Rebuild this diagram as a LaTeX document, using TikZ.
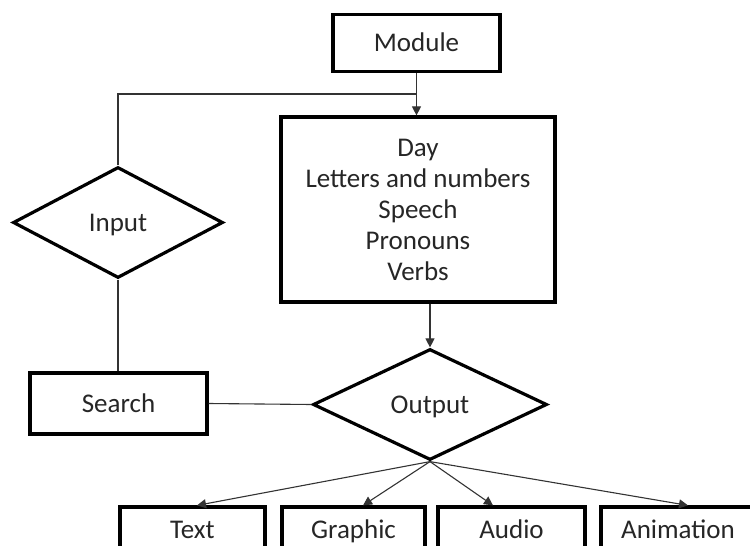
\documentclass[tikz,border=0pt]{standalone}
\usepackage{fontspec}
\setmainfont{Carlito}
\usetikzlibrary{shapes.geometric,arrows.meta}

\begin{document}
\begin{tikzpicture}[x=1pt,y=-1pt,
        box/.style={draw,line width=3.2pt,rectangle,inner sep=0pt,text=black!85},
        oneline/.style={text height=17pt,text depth=0pt},
        decide/.style={draw,line width=3.2pt,diamond,inner sep=0pt,text=black!85,oneline},
        link/.style={line width=1.1pt,black!80},
        flow/.style={link,-{Triangle[length=9pt,width=9pt]}},
        every node/.style={font=\fontsize{27}{31}\selectfont}]

        \clip (0,0) rectangle (750,546);

        % Main boxes
        \node[box,oneline,minimum width=167,minimum height=57] (module) at (416.5,43) {Module};
        \node[box,minimum width=274,minimum height=185,align=center] (topics) at (418,209.5)
            {Day\\Letters and numbers\\Speech\\Pronouns\\Verbs};

        % Decisions
        \node[decide,minimum width=210,minimum height=111] (input) at (118,222.5) {Input};
        \node[decide,minimum width=234,minimum height=111] (output) at (430,404.5) {Output};

        \node[box,oneline,minimum width=177,minimum height=61] (search) at (118.5,403.5) {Search};

        % Media
        \node[box,oneline,minimum width=145,minimum height=46] (txt) at (192.5,530) {Text};
        \node[box,oneline,minimum width=143,minimum height=46] (graphic) at (353.5,530) {Graphic};
        \node[box,oneline,minimum width=147,minimum height=46] (audio) at (511.5,530) {Audio};
        \node[box,oneline,minimum width=154,minimum height=46] (anim) at (678,530) {Animation};

        \coordinate (join) at (417,94);

        % Connectors
        \draw[flow] (module.south) -- (module.south |- topics.north);
        \draw[link] (input.north) |- (join);
        \draw[link] (input.south) -- (input.south |- search.north);
        \draw[link] (search.east) -- (output.west);
        \draw[flow] (topics.south -| output.north) -- (output.north);

        \draw[flow] (output.south) -- ([xshift=4.5]txt.north);
        \draw[flow] (output.south) -- ([xshift=9.5]graphic.north);
        \draw[flow] (output.south) -- ([xshift=-18.5]audio.north);
        \draw[flow] (output.south) -- ([xshift=10]anim.north);

\end{tikzpicture}
\end{document}
